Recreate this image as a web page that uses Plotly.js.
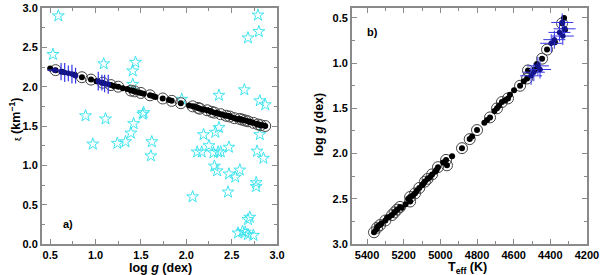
<!DOCTYPE html>
<html>
<head>
<meta charset="utf-8">
<script src="https://cdn.plot.ly/plotly-3.0.1.min.js"></script>
<style>html,body{margin:0;padding:0;background:#fff;}#plot{width:600px;height:275px;}</style>
</head>
<body>
<div id="plot"></div>
<script>
// Black dots: stars (log g, xi, Teff)
const dotLogg = [0.50,0.56,0.63,0.77,0.85,0.95,1.01,1.07,1.08,1.17,1.20,1.25,1.30,1.35,1.39,1.41,1.43,1.47,1.50,1.53,1.60,1.63,1.66,1.74,1.81,1.84,1.94,2.03,2.07,2.10,2.13,2.15,2.18,2.20,2.23,2.26,2.28,2.31,2.33,2.35,2.38,2.41,2.44,2.46,2.48,2.50,2.53,2.56,2.59,2.60,2.62,2.65,2.68,2.70,2.71,2.74,2.77,2.79,2.80,2.82,2.84,2.87];
const dotXi   = [2.23,2.21,2.19,2.15,2.12,2.09,2.07,2.05,2.05,2.02,2.01,2.00,1.98,1.97,1.95,1.95,1.94,1.93,1.92,1.91,1.89,1.88,1.87,1.85,1.83,1.82,1.79,1.76,1.75,1.74,1.73,1.72,1.71,1.71,1.70,1.69,1.68,1.67,1.67,1.66,1.65,1.64,1.63,1.63,1.62,1.61,1.60,1.59,1.59,1.58,1.58,1.57,1.56,1.55,1.55,1.54,1.53,1.52,1.52,1.51,1.51,1.50];
const dotTeff = [4325,4336,4320,4375,4418,4445,4473,4484,4522,4527,4545,4565,4598,4620,4631,4647,4664,4680,4691,4705,4729,4745,4760,4800,4827,4840,4882,4936,4969,4985,4964,5013,5020,5029,5045,5056,5070,5084,5092,5100,5115,5128,5138,5150,5165,5175,5165,5190,5220,5210,5236,5250,5264,5280,5291,5300,5320,5329,5340,5345,5350,5362];

// Circled stars
const circLogg = [0.56,0.85,0.95,1.08,1.17,1.25,1.39,1.43,1.50,1.60,1.74,1.84,1.94,2.07,2.13,2.15,2.23,2.28,2.31,2.38,2.44,2.48,2.53,2.59,2.62,2.65,2.68,2.74,2.79,2.82,2.87];
const circXi   = [2.21,2.12,2.09,2.05,2.02,2.00,1.95,1.94,1.92,1.89,1.85,1.82,1.79,1.75,1.73,1.72,1.70,1.68,1.67,1.65,1.63,1.62,1.60,1.59,1.58,1.57,1.56,1.54,1.52,1.51,1.50];
const circTeff = [4336,4418,4445,4522,4527,4565,4631,4664,4691,4729,4800,4840,4882,4969,4964,5013,5045,5070,5084,5115,5138,5165,5165,5220,5236,5250,5264,5300,5329,5345,5362];

// Blue stars with error bars
const blueLogg = [0.55,0.62,0.66,0.70,0.74,0.78,1.03,1.07,1.10,1.14];
const blueXi   = [2.21,2.19,2.18,2.17,2.16,2.14,2.07,2.05,2.04,2.03];
const blueTeff = [4335,4322,4350,4332,4378,4395,4468,4456,4490,4505];
const blueXiErr = [0.02,0.11,0.12,0.10,0.12,0.10,0.12,0.10,0.11,0.12];
const blueLoggErr = [0.08,0.02,0.02,0.02,0.02,0.02,0.02,0.02,0.02,0.02];
const blueTeffErr = [60,60,60,60,60,60,60,60,60,60];
const blueLoggErrB = [0.10,0.10,0.10,0.10,0.10,0.10,0.10,0.10,0.10,0.10];

// Cyan stars (left panel only)
const cyanLogg = [0.59,0.53,1.09,1.44,1.41,1.41,0.89,1.11,1.42,1.53,1.52,2.36,2.64,2.79,2.80,2.68,2.81,2.87,1.95,1.39,2.19,2.32,2.36,2.81,0.97,1.24,1.33,1.62,1.61,2.12,2.17,2.25,2.30,2.35,2.38,2.47,2.31,2.34,2.07,2.47,2.54,2.59,2.46,2.77,2.77,2.78,2.85,2.70,2.68,2.57,2.65,2.68,2.74,2.62];
const cyanXi   = [2.90,2.41,2.29,2.31,2.20,2.03,1.63,1.59,1.53,1.67,1.65,1.89,1.96,2.91,2.70,2.62,1.82,1.77,1.84,1.41,1.39,1.42,1.48,1.39,1.27,1.28,1.30,1.30,1.12,1.17,1.17,1.25,1.16,1.17,1.17,1.23,0.99,0.93,0.60,0.89,0.85,0.94,0.66,0.78,0.73,1.18,1.09,0.34,0.31,0.14,0.15,0.12,0.11,0.16];

const xTicksA = [0.5,1.0,1.5,2.0,2.5,3.0];
const yTicksA = [0.0,0.5,1.0,1.5,2.0,2.5,3.0];
const xTicksB = [5400,5200,5000,4800,4600,4400,4200];
const yTicksB = [0.5,1.0,1.5,2.0,2.5,3.0];

const FONT = {family:'Liberation Sans, Arial, sans-serif', size:11, color:'#000', weight:'bold'};
const TFONT = {family:'Liberation Sans, Arial, sans-serif', size:12.5, color:'#000', weight:'bold'};
const lineCol = '#8a8a8a';

function ax(extra){
  return Object.assign({
    showline:true, linecolor:lineCol, linewidth:2, mirror:'allticks',
    ticks:'inside', ticklen:5, tickcolor:lineCol, tickwidth:1,
    showgrid:false, zeroline:false, tickfont:FONT, tickmode:'array'
  }, extra);
}

const blueLine = '#3434e8';
const traces = [
  {x:cyanLogg, y:cyanXi, type:'scatter', mode:'markers', xaxis:'x', yaxis:'y',
   marker:{symbol:'star-open', size:9, color:'#40e4f0', line:{width:1, color:'#40e4f0'}}, hoverinfo:'none'},
  {x:circLogg, y:circXi, type:'scatter', mode:'markers', xaxis:'x', yaxis:'y',
   marker:{symbol:'circle-open', size:11, color:'#444', line:{width:1}}, hoverinfo:'none'},
  {x:dotLogg, y:dotXi, type:'scatter', mode:'markers', xaxis:'x', yaxis:'y',
   marker:{symbol:'circle', size:6, color:'#000'}, hoverinfo:'none'},
  {x:blueLogg, y:blueXi, type:'scatter', mode:'markers', xaxis:'x', yaxis:'y',
   marker:{symbol:'circle', size:5.5, color:'#14148c'},
   error_y:{type:'data', array:blueXiErr, visible:true, color:blueLine, thickness:1.2, width:0},
   error_x:{type:'data', array:blueLoggErr, visible:true, color:blueLine, thickness:1.2, width:0},
   hoverinfo:'none'},

  {x:circTeff, y:circLogg, type:'scatter', mode:'markers', xaxis:'x2', yaxis:'y2',
   marker:{symbol:'circle-open', size:11, color:'#444', line:{width:1}}, hoverinfo:'none'},
  {x:dotTeff, y:dotLogg, type:'scatter', mode:'markers', xaxis:'x2', yaxis:'y2',
   marker:{symbol:'circle', size:6, color:'#000'}, hoverinfo:'none'},
  {x:blueTeff, y:blueLogg, type:'scatter', mode:'markers', xaxis:'x2', yaxis:'y2',
   marker:{symbol:'circle', size:5.5, color:'#14148c'},
   error_x:{type:'data', array:blueTeffErr, visible:true, color:blueLine, thickness:1, width:0},
   error_y:{type:'data', array:blueLoggErrB, visible:true, color:blueLine, thickness:1, width:0},
   hoverinfo:'none'}
];

const layout = {
  width:600, height:275, margin:{l:0,r:0,t:0,b:0},
  paper_bgcolor:'#fff', plot_bgcolor:'#fff', showlegend:false, font:FONT,
  xaxis: ax({domain:[0.07,0.4617], range:[0.41,3.0], tickvals:xTicksA, ticktext:xTicksA.map(v=>v.toFixed(1)),
    minor:{tickvals:[0.75,1.25,1.75,2.25,2.75], ticks:'inside', ticklen:3, tickcolor:lineCol}, anchor:'y'}),
  yaxis: ax({domain:[0.1127,0.9709], range:[0,3.0], tickvals:yTicksA, ticktext:yTicksA.map(v=>v.toFixed(1)),
    minor:{tickvals:[0.25,0.75,1.25,1.75,2.25,2.75], ticks:'inside', ticklen:3, tickcolor:lineCol}, anchor:'x'}),
  xaxis2: ax({domain:[0.5867,0.9783], range:[5482,4200], tickvals:xTicksB, ticktext:xTicksB.map(String),
    minor:{tickvals:[5300,5100,4900,4700,4500,4300], ticks:'inside', ticklen:3, tickcolor:lineCol}, anchor:'y2'}),
  yaxis2: ax({domain:[0.1127,0.9709], range:[3.0,0.39], tickvals:yTicksB, ticktext:yTicksB.map(v=>v.toFixed(1)),
    minor:{tickvals:[0.75,1.25,1.75,2.25,2.75], ticks:'inside', ticklen:3, tickcolor:lineCol}, anchor:'x2'}),
  annotations:[
    {xref:'x', yref:'y', x:0.62, y:0.25, text:'a)', showarrow:false, font:FONT, xanchor:'left'},
    {xref:'x2', yref:'y2', x:5410, y:0.66, text:'b)', showarrow:false, font:FONT, xanchor:'left'},
    {xref:'paper', yref:'paper', x:160/600, y:1-267.5/275, text:'log <i>g</i> (dex)', showarrow:false, font:TFONT, xanchor:'center', yanchor:'middle'},
    {xref:'paper', yref:'paper', x:467/600, y:1-267.5/275, text:'T<sub>eff</sub> (K)', showarrow:false, font:TFONT, xanchor:'center', yanchor:'middle'},
    {xref:'paper', yref:'paper', x:15/600, y:1-120/275, text:'<span style="font-size:8px">ξ</span> (km<sup>−1</sup>)', textangle:-90, showarrow:false, font:TFONT, xanchor:'center', yanchor:'middle'},
    {xref:'paper', yref:'paper', x:319/600, y:1-125/275, text:'log <i>g</i> (dex)', textangle:-90, showarrow:false, font:TFONT, xanchor:'center', yanchor:'middle'}
  ]
};

Plotly.newPlot('plot', traces, layout, {staticPlot:true, displayModeBar:false});
</script>
</body>
</html>
